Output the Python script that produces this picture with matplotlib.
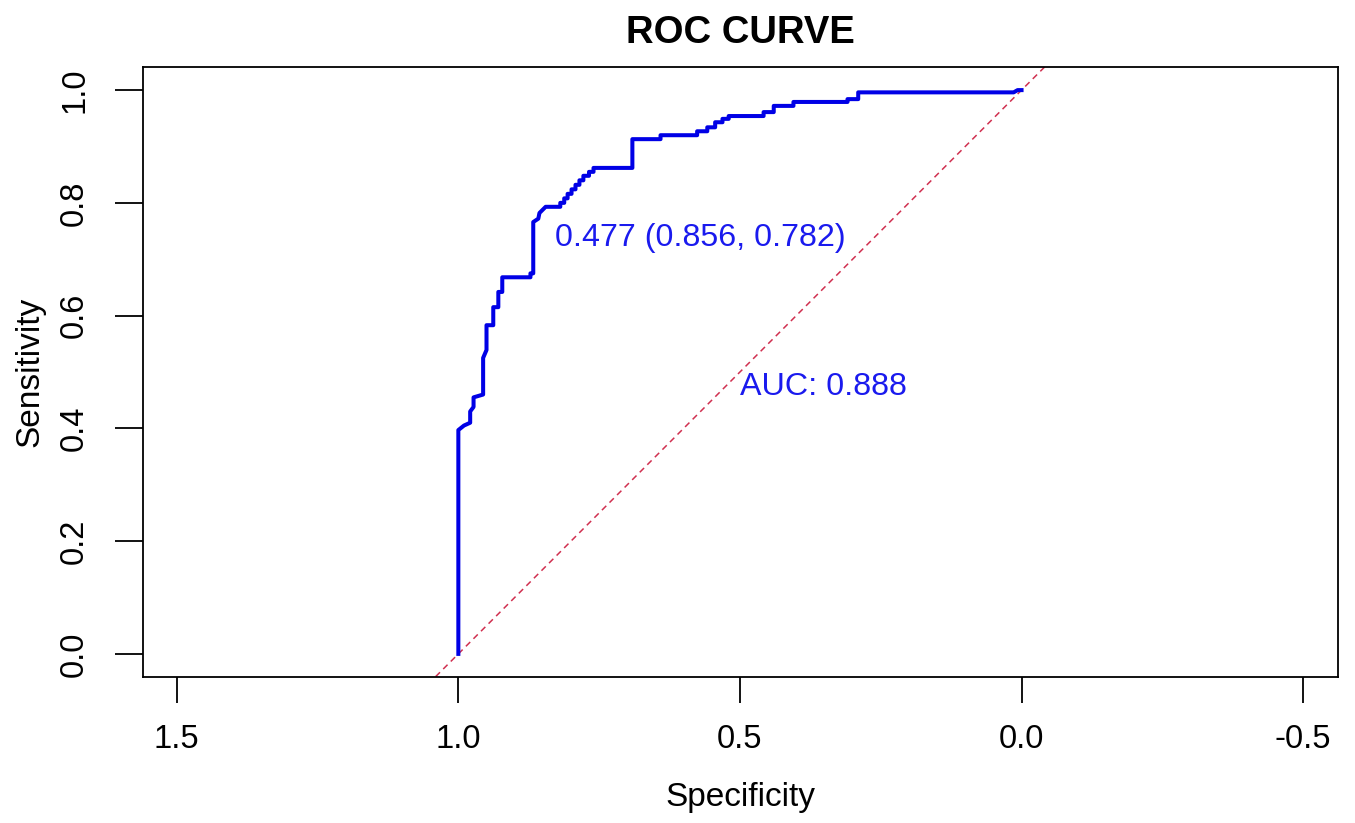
import numpy as np
import matplotlib.pyplot as plt

plt.rcParams['font.family'] = ['Liberation Sans', 'DejaVu Sans']

# ROC curve points (specificity, sensitivity)
spec = [1.0, 1.0, 0.99, 0.979, 0.979, 0.973, 0.973, 0.956, 0.956, 0.95, 0.95,
        0.938, 0.938, 0.929, 0.929, 0.922, 0.922, 0.872, 0.872, 0.867, 0.867,
        0.858, 0.856, 0.845, 0.819, 0.819, 0.812, 0.812, 0.806, 0.806, 0.799,
        0.799, 0.792, 0.792, 0.785, 0.785, 0.778, 0.778, 0.768, 0.768, 0.760,
        0.760, 0.691, 0.691, 0.641, 0.641, 0.576, 0.576, 0.558,
        0.558, 0.544, 0.544, 0.531, 0.531, 0.52, 0.52, 0.458, 0.458, 0.44,
        0.44, 0.405, 0.405, 0.309, 0.309, 0.29, 0.29, 0.014, 0.007, 0.0]
sens = [0.0, 0.397, 0.405, 0.41, 0.43, 0.438, 0.455, 0.46, 0.525, 0.539, 0.583,
        0.583, 0.615, 0.615, 0.642, 0.642, 0.668, 0.668, 0.675, 0.675, 0.766,
        0.772, 0.782, 0.793, 0.793, 0.80, 0.80, 0.808, 0.808, 0.816, 0.816,
        0.824, 0.824, 0.832, 0.832, 0.840, 0.840, 0.848, 0.848, 0.855, 0.855,
        0.862, 0.862, 0.913, 0.913, 0.92, 0.92, 0.927, 0.927,
        0.934, 0.934, 0.943, 0.943, 0.949, 0.949, 0.954, 0.954, 0.961, 0.961,
        0.972, 0.972, 0.979, 0.979, 0.984, 0.984, 0.996, 0.996, 1.0, 1.0]

best_thr = 0.477
best_spec = 0.856
best_sens = 0.782
auc = 0.888

x_ticks = [1.5, 1.0, 0.5, 0.0, -0.5]
y_ticks = [0.0, 0.2, 0.4, 0.6, 0.8, 1.0]

fig = plt.figure(figsize=(13.55, 8.23), dpi=100)
ax = fig.add_axes([0.1055, 0.1774, 0.882, 0.7412])

ax.axline((1, 0), (0, 1), color='#d03050', lw=1.1, ls=(0, (4, 3)), zorder=1)
ax.plot(spec, sens, color='#0000e6', lw=2.9, zorder=2)

ax.text(best_spec - 0.028, best_sens - 0.044,
        '%.3f (%.3f, %.3f)' % (best_thr, best_spec, best_sens),
        color='#1a1aee', fontsize=23.2, ha='left', va='center')
ax.text(0.5, 0.473, 'AUC: %.3f' % auc, color='#1a1aee', fontsize=23.2,
        ha='left', va='center')

ax.set_xlim(1.56, -0.562)
ax.set_ylim(-0.041, 1.041)
ax.set_xticks(x_ticks)
ax.set_xticklabels(['%.1f' % v for v in x_ticks])
ax.set_yticks(y_ticks)
ax.set_yticklabels(['%.1f' % v for v in y_ticks], rotation=90, va='center')
ax.tick_params(axis='x', length=19, width=1.3, pad=15, labelsize=23.5)
ax.tick_params(axis='y', length=20, width=1.3, pad=18, labelsize=23.5)
for s in ax.spines.values():
    s.set_linewidth(1.3)

ax.set_xlabel('Specificity', fontsize=24, labelpad=19)
ax.set_ylabel('Sensitivity', fontsize=24, labelpad=10)
ax.set_title('ROC CURVE', fontsize=27.5, fontweight='bold', pad=17)

fig.savefig('out.png', dpi=100)
